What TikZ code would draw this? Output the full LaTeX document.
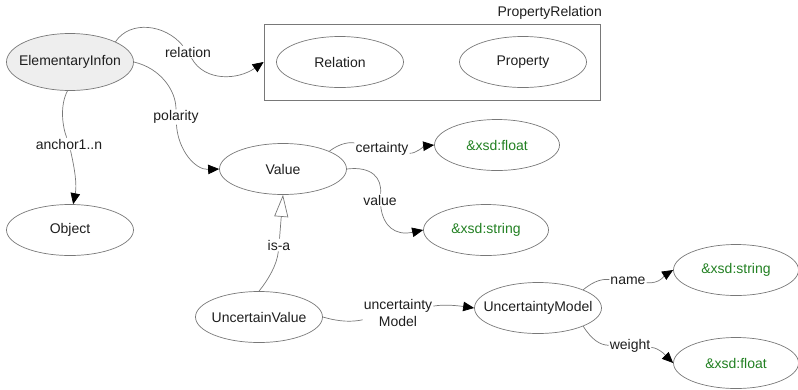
\documentclass[tikz,border=0pt]{standalone}
\usepackage{fontspec}
\setmainfont{Liberation Sans}
\usetikzlibrary{shapes.geometric,arrows.meta}
\definecolor{linegray}{RGB}{120,120,120}
\definecolor{textdark}{RGB}{30,30,30}
\definecolor{typegreen}{RGB}{34,128,34}
\definecolor{rootfill}{RGB}{238,238,238}
\newcommand\ctext[1]{\makebox[0pt]{#1}}
\tikzset{
  ent/.style={ellipse, draw=linegray, line width=0.7pt, minimum width=127pt,
    minimum height=51pt, inner sep=0pt, text=textdark},
  lit/.style={ent, text=typegreen, minimum width=125pt},
  elabel/.style={inner sep=1pt, text=textdark},
  conn/.style={draw=linegray, line width=0.7pt},
  tip/.style={-{Triangle[length=11pt,width=9.5pt,color=black]}},
  isa/.style={-{Triangle[open,length=22pt,width=14pt,fill=white,color=linegray]}},
}
\begin{document}
\begin{tikzpicture}[x=1pt,y=-1pt,font=\fontsize{14}{17}\selectfont]
\useasboundingbox (0,0) rectangle (798,389);

% group box of relations and properties
\node[draw=linegray, line width=0.7pt, minimum width=336pt, minimum height=76pt,
  inner sep=0pt] (PR) at (432,62) {};
\node[anchor=east, text=textdark, inner sep=0pt] (PRname) at (602,13) {PropertyRelation};

% classes
\node[ent, fill=rootfill, minimum height=57pt] (EI) at (70,62) {\ctext{ElementaryInfon}};
\node[ent] (Rel) at (340,62) {\ctext{Relation}};
\node[ent] (Prop) at (523,62) {\ctext{Property}};
\node[ent] (Val) at (283,169) {\ctext{Value}};
\node[ent] (Obj) at (70,230) {\ctext{Object}};
\node[ent] (UV) at (259,317) {\ctext{UncertainValue}};
\node[ent] (UM) at (538,308) {\ctext{UncertaintyModel}};

% datatype literals
\node[lit] (F1) at (497,145) {\ctext{\&xsd:float}};
\node[lit] (S1) at (486,230) {\ctext{\&xsd:string}};
\node[lit] (S2) at (736,270) {\ctext{\&xsd:string}};
\node[lit] (F2) at (736,363) {\ctext{\&xsd:float}};

% property labels
\node[elabel] (lrel) at (188,52) {relation};
\node[elabel] (lpol) at (176,117) {polarity};
\node[elabel] (lanc) at (69,144) {anchor1..n};
\node[elabel] (lcer) at (382,149) {certainty};
\node[elabel] (lval) at (380,200) {value};
\node[elabel] (lisa) at (279,245) {is-a};
\node[elabel, align=center] (lunc) at (398,312.5) {uncertainty\\Model};
\node[elabel] (lname) at (628,281) {name};
\node[elabel] (lwt) at (630,346) {weight};

% properties
\draw[conn] (EI.24) .. controls (130,20) and (165,24) .. (lrel);
\draw[conn,tip] (lrel) .. controls (205,82) and (238,80) .. (PR.west);

\draw[conn] (EI.east) .. controls (160,68) and (176,90) .. (lpol);
\draw[conn,tip] (lpol) .. controls (178,150) and (195,170) .. (Val.west);

\draw[conn] (EI.265) .. controls (60,105) and (62,125) .. (lanc);
\draw[conn,tip] (lanc) .. controls (75,170) and (77,185) .. (Obj.83);

\draw[conn] (Val.21) .. controls (340,143) and (350,142) .. (lcer);
\draw[conn,tip] (lcer) .. controls (415,154) and (425,146) .. (F1.west);

\draw[conn] (Val.east) .. controls (372,166) and (382,178) .. (lval);
\draw[conn,tip] (lval) .. controls (383,226) and (395,236) .. (S1.west);

\draw[conn] (UV.north) .. controls (268,280) and (277,265) .. (lisa);
\draw[conn,isa] (lisa) -- (Val.south);

\draw[conn] (UV.east) .. controls (340,322) and (352,322) .. (lunc);
\draw[conn,tip] (lunc) .. controls (445,304) and (460,306) .. (UM.west);

\draw[conn] (UM.22) .. controls (595,280) and (603,279) .. (lname);
\draw[conn,tip] (lname) .. controls (660,284) and (665,275) .. (S2.west);

\draw[conn] (UM.-22) .. controls (592,340) and (600,345) .. (lwt);
\draw[conn,tip] (lwt) .. controls (660,348) and (668,358) .. (F2.west);
\end{tikzpicture}
\end{document}
